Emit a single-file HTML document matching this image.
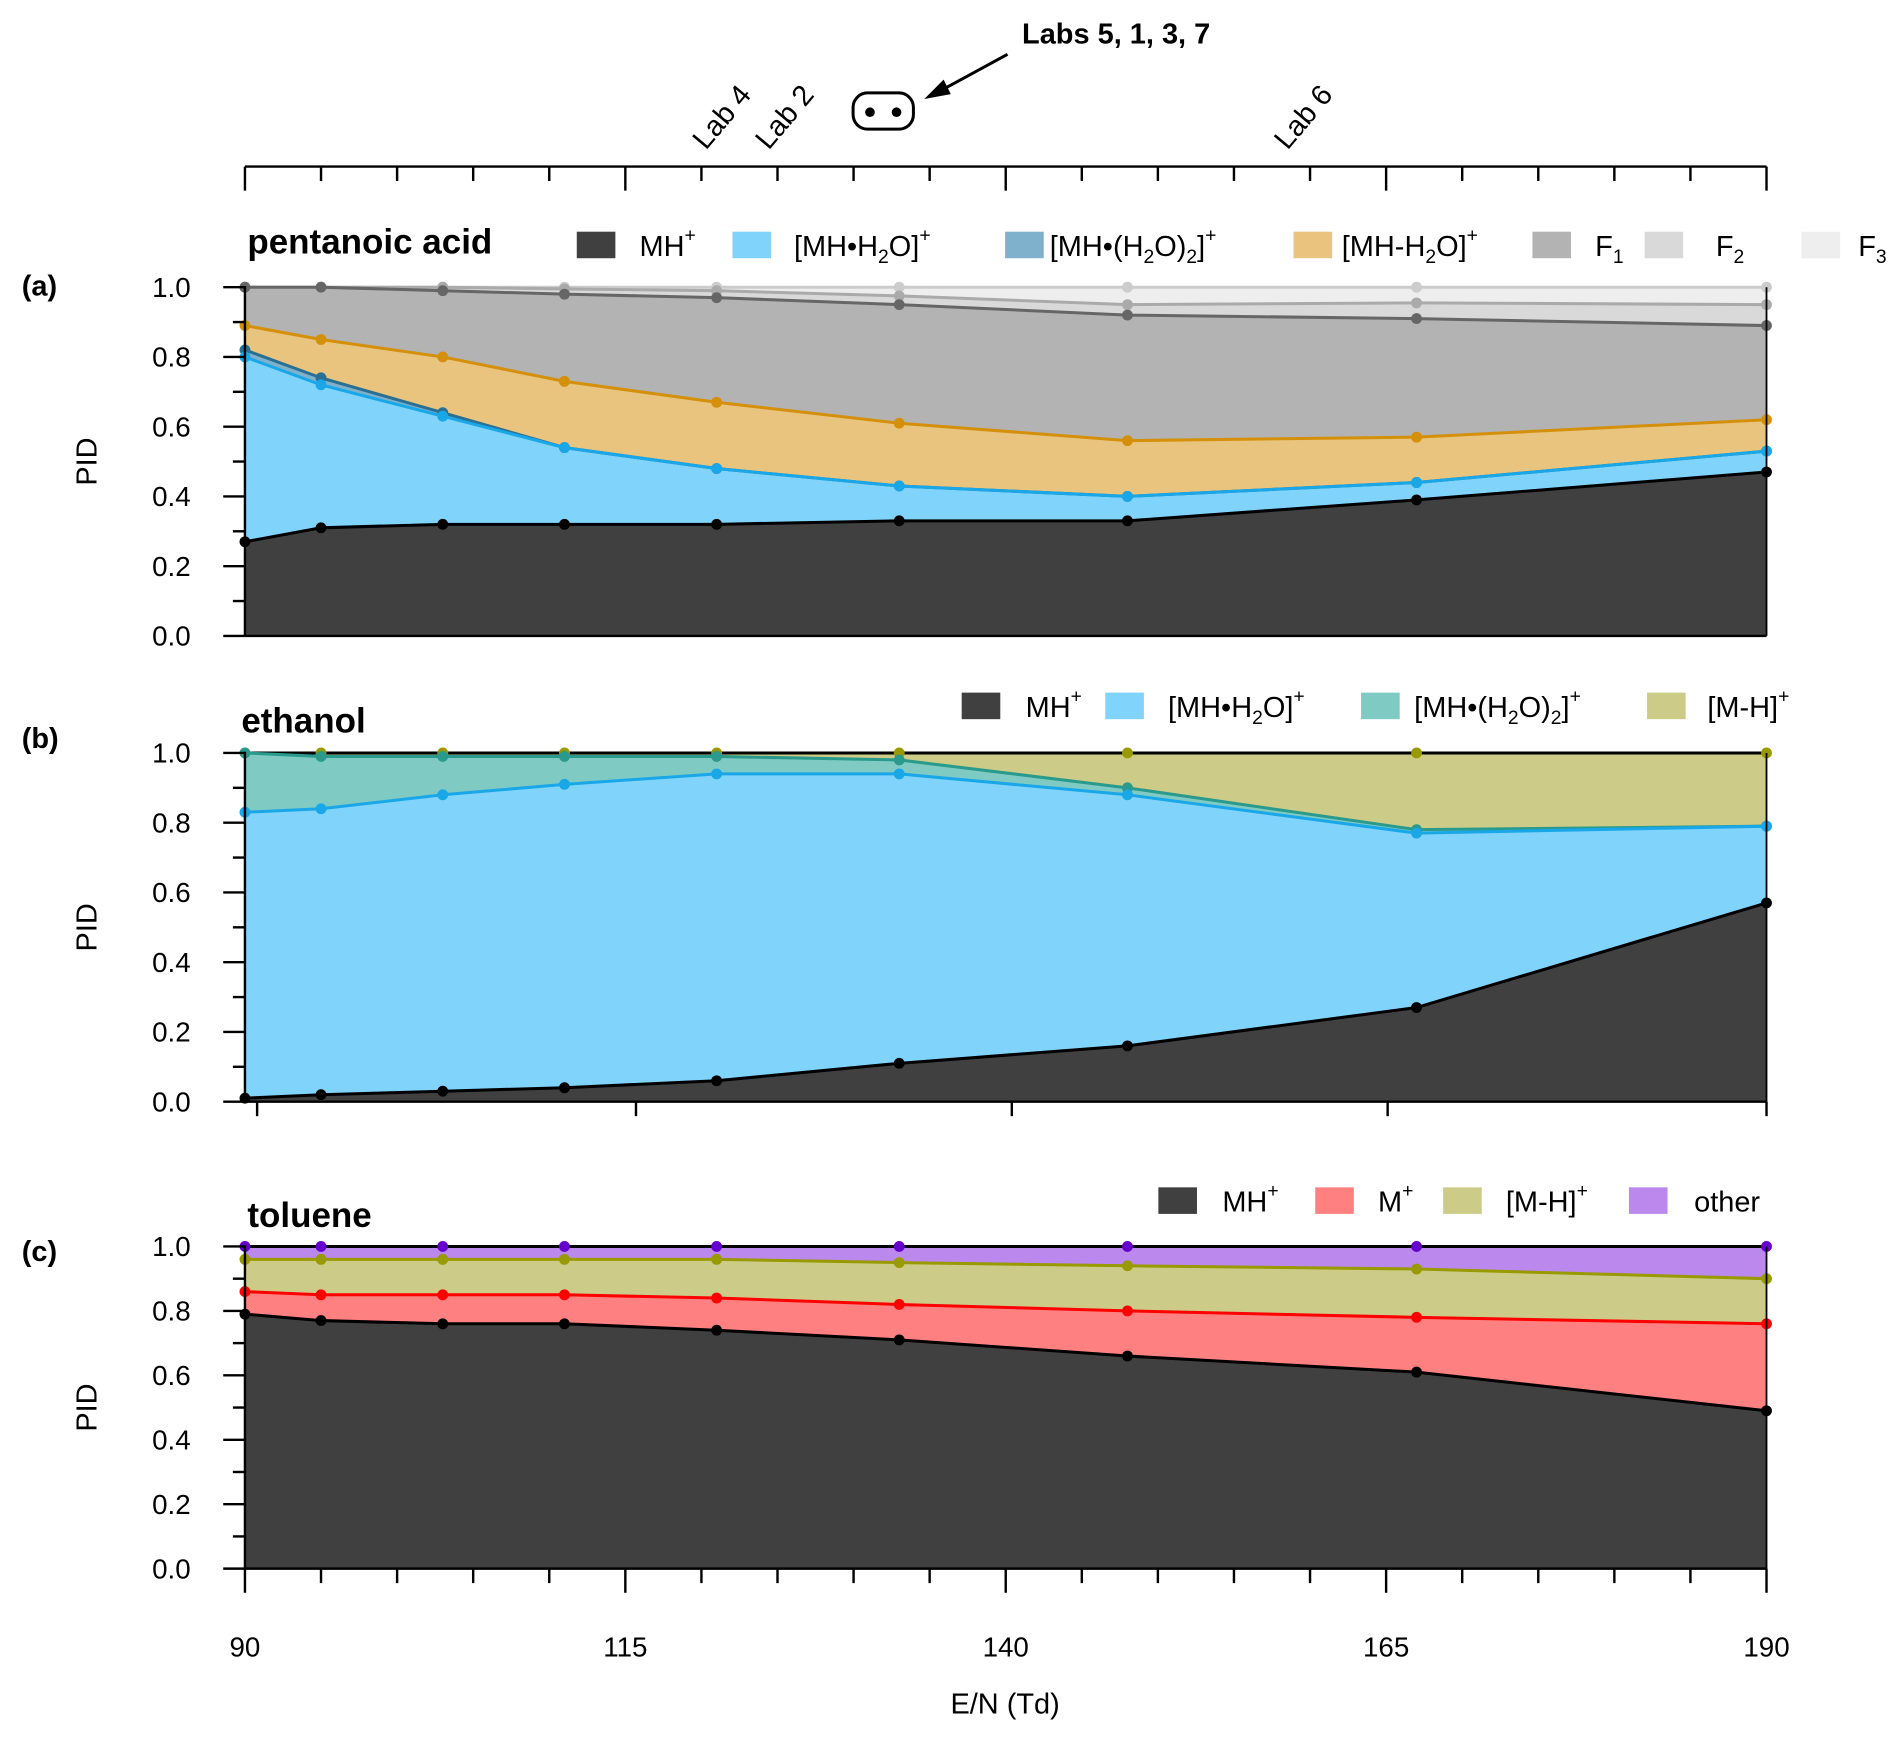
<!DOCTYPE html>
<html><head><meta charset="utf-8"><style>
html,body{margin:0;padding:0;background:#fff;}
svg{display:block;font-family:"Liberation Sans",Arial,sans-serif;}
</style></head><body>
<svg id="chart" width="1892" height="1740" viewBox="0 0 1568 1442" xmlns="http://www.w3.org/2000/svg"></svg>
<script>
const enValues=[90,95,103,111,121,133,148,167,190];
const xTicks=[90,115,140,165,190];
const yTicks=[0,0.2,0.4,0.6,0.8,1.0];
// panel a (cumulative tops)
const aMH=[.27,.31,.32,.32,.32,.33,.33,.39,.47];
const aH2O=[.80,.72,.63,.54,.48,.43,.40,.44,.53];
const aH2O2=[.82,.74,.64,.54,.48,.43,.40,.44,.53];
const aMinusH2O=[.89,.85,.80,.73,.67,.61,.56,.57,.62];
const aF1=[1.0,1.0,.99,.98,.97,.95,.92,.91,.89];
const aF2=[1,1,1,.995,.99,.975,.95,.955,.95];
const aF3=[1,1,1,1,1,1,1,1,1];
// panel b
const bMH=[.01,.02,.03,.04,.06,.11,.16,.27,.57];
const bH2O=[.83,.84,.88,.91,.94,.94,.88,.77,.79];
const bH2O2=[1.0,.99,.99,.99,.99,.98,.90,.78,.79];
const bMH_H=[1,1,1,1,1,1,1,1,1];
// panel c
const cMH=[.79,.77,.76,.76,.74,.71,.66,.61,.49];
const cM=[.86,.85,.85,.85,.84,.82,.80,.78,.76];
const cMH_H=[.96,.96,.96,.96,.96,.95,.94,.93,.90];
const cOther=[1,1,1,1,1,1,1,1,1];

const NS="http://www.w3.org/2000/svg";
const svg=document.getElementById('chart');
function mk(tag,attrs,parent){const e=document.createElementNS(NS,tag);for(const k in attrs)e.setAttribute(k,attrs[k]);(parent||svg).appendChild(e);return e;}
const X0=203,X1=1464;
function xs(v){return X0+(v-90)/(190-90)*(X1-X0);}
const panels=[
 {id:'a',top:238,bot:527,series:[
   {n:'mh',d:aMH,f:'#404040',l:'#000'},
   {n:'mh-h2o',d:aH2O,f:'#80d4fc',l:'#1aa7e8'},
   {n:'mh-h2o2',d:aH2O2,f:'#7fb1cc',l:'#2a6f94'},
   {n:'mh-minus-h2o',d:aMinusH2O,f:'#e8c47f',l:'#d4900a'},
   {n:'f1',d:aF1,f:'#b3b3b3',l:'#666'},
   {n:'f2',d:aF2,f:'#d9d9d9',l:'#aaa'},
   {n:'f3',d:aF3,f:'#eeeeee',l:'#ccc'}]},
 {id:'b',top:624,bot:913,series:[
   {n:'mh',d:bMH,f:'#404040',l:'#000'},
   {n:'mh-h2o',d:bH2O,f:'#80d4fc',l:'#1aa7e8'},
   {n:'mh-h2o2',d:bH2O2,f:'#7fcbc4',l:'#2a9a8c'},
   {n:'m-h',d:bMH_H,f:'#cccc88',l:'#000'}]},
 {id:'c',top:1033,bot:1300,series:[
   {n:'mh',d:cMH,f:'#404040',l:'#000'},
   {n:'m-plus',d:cM,f:'#ff8080',l:'#ff0000'},
   {n:'m-h',d:cMH_H,f:'#cccc88',l:'#999900'},
   {n:'other',d:cOther,f:'#bb88ee',l:'#000'}]}
];
const dotCol={a:['#000','#1aa7e8','#2a6f94','#d4900a','#666','#aaa','#ccc'],b:['#000','#1aa7e8','#2a9a8c','#999900'],c:['#000','#ff0000','#999900','#6600cc']};
panels.forEach(p=>{
  const ys=v=>p.bot-v*(p.bot-p.top);
  const g=mk('g',{});
  
  
  p.series.forEach((s,i)=>{
    const lower=i===0?enValues.map(()=>0):p.series[i-1].d;
    let d='M'+enValues.map((v,j)=>xs(v)+','+ys(s.d[j])).join(' L');
    for(let j=enValues.length-1;j>=0;j--)d+=' L'+xs(enValues[j])+','+ys(lower[j]);
    const a=mk('path',{d:d+'Z',fill:s.f,stroke:'none'},g);
    
    
  });
  for(let i=p.series.length-1;i>=0;i--){
    const s=p.series[i];
    const ln=mk('polyline',{points:enValues.map((v,j)=>xs(v)+','+ys(s.d[j])).join(' '),fill:'none',stroke:s.l,'stroke-width':2.5},g);
    
    
    enValues.forEach((v,j)=>{
      const c=mk('circle',{cx:xs(v),cy:ys(s.d[j]),r:4.5,fill:dotCol[p.id][i]},g);
      
      
    });
  }
  mk('line',{x1:X0,y1:p.top-1,x2:X0,y2:p.bot,stroke:'#000','stroke-width':2},g);
  mk('line',{x1:X1,y1:p.top,x2:X1,y2:p.bot,stroke:'#000','stroke-width':1.5},g);
  mk('line',{x1:X0,y1:p.bot,x2:X1,y2:p.bot,stroke:'#000','stroke-width':2},g);
  for(let k=0;k<=10;k++){
    const v=k/10,y=ys(v),major=k%2===0;
    mk('line',{x1:X0-(major?18:10),y1:y,x2:X0,y2:y,stroke:'#000','stroke-width':2},g);
  }
  yTicks.forEach(v=>{
    const t=mk('text',{x:158,y:ys(v)+8,'text-anchor':'end','font-size':23},g);
    t.textContent=v.toFixed(1);
    
    
  });
  const yl=mk('text',{x:0,y:0,'font-size':24,'text-anchor':'middle',transform:`translate(80,${(p.top+p.bot)/2}) rotate(-90)`},g);
  yl.textContent='PID';
  
  
  const pl=mk('text',{x:18,y:p.id==='a'?245:(p.id==='b'?620:1045),'font-size':24,'font-weight':'bold'},g);
  pl.textContent='('+p.id+')';
  
  
});
[90.8,115.7,140.4,165.1,190].forEach(v=>{mk('line',{x1:xs(v),y1:913,x2:xs(v),y2:925,stroke:'#000','stroke-width':2});});
for(let v=90;v<=190;v+=5){
  const major=(v-90)%25===0;
  mk('line',{x1:xs(v),y1:1300,x2:xs(v),y2:1300+(major?20:12),stroke:'#000','stroke-width':2});
  mk('line',{x1:xs(v),y1:138,x2:xs(v),y2:138+(major?20:12),stroke:'#000','stroke-width':2});
}
mk('line',{x1:X0,y1:138,x2:X1,y2:138,stroke:'#000','stroke-width':2});
xTicks.forEach(v=>{
  const t=mk('text',{x:xs(v),y:1373,'text-anchor':'middle','font-size':23});
  t.textContent=v;
  
  
});
const xt=mk('text',{x:833,y:1420,'text-anchor':'middle','font-size':24});
xt.textContent='E/N (Td)';


[['pentanoic acid',205,210],['ethanol',200,607],['toluene',205,1017]].forEach(a=>{
  const t=mk('text',{x:a[1],y:a[2],'font-size':29,'font-weight':'bold'});
  t.textContent=a[0];
  
  
});
// parts: [text, offset]; offset 0 normal, 1 subscript, -1 superscript
function leg(sx,tx,y,col,parts){
  const r=mk('rect',{x:sx,y:y-18,width:32,height:22,fill:col});
  
  
  const t=mk('text',{x:tx,y:y+2,'font-size':24});
  
  
  let prev=0;
  parts.forEach(pt=>{
    const off=pt[1]===1?6:(pt[1]===-1?-12:0);
    const ts=mk('tspan',{dy:off-prev,'font-size':pt[1]===0?24:16},t);
    ts.textContent=pt[0];
    prev=off;
  });
}
leg(478,530,210,'#404040',[['MH',0],['+',-1]]);
leg(607,658,210,'#80d4fc',[['[MH•H',0],['2',1],['O]',0],['+',-1]]);
leg(833,870,210,'#7fb1cc',[['[MH•(H',0],['2',1],['O)',0],['2',1],[']',0],['+',-1]]);
leg(1072,1112,210,'#e8c47f',[['[MH-H',0],['2',1],['O]',0],['+',-1]]);
leg(1270,1322,210,'#b3b3b3',[['F',0],['1',1]]);
leg(1363,1422,210,'#d9d9d9',[['F',0],['2',1]]);
leg(1493,1540,210,'#eeeeee',[['F',0],['3',1]]);
leg(797,850,592,'#404040',[['MH',0],['+',-1]]);
leg(916,968,592,'#80d4fc',[['[MH•H',0],['2',1],['O]',0],['+',-1]]);
leg(1128,1172,592,'#7fcbc4',[['[MH•(H',0],['2',1],['O)',0],['2',1],[']',0],['+',-1]]);
leg(1365,1415,592,'#cccc88',[['[M-H]',0],['+',-1]]);
leg(960,1013,1002,'#404040',[['MH',0],['+',-1]]);
leg(1090,1142,1002,'#ff8080',[['M',0],['+',-1]]);
leg(1196,1248,1002,'#cccc88',[['[M-H]',0],['+',-1]]);
leg(1350,1404,1002,'#bb88ee',[['other',0]]);
[['Lab 4',585,125],['Lab 2',637,125],['Lab 6',1067,125]].forEach(a=>{
  const t=mk('text',{x:0,y:0,'font-size':24,transform:`translate(${a[1]},${a[2]}) rotate(-50)`});
  t.textContent=a[0];
  
  
});
const mark=mk('rect',{x:707,y:77,width:50,height:30,rx:12,fill:'#fff',stroke:'#000','stroke-width':2.5});


mk('circle',{cx:721,cy:93,r:4,fill:'#000'});
mk('circle',{cx:743,cy:93,r:4,fill:'#000'});
mk('line',{x1:835,y1:45,x2:778,y2:76,stroke:'#000','stroke-width':2.5});
mk('polygon',{points:'766,82 782,66 788,78',fill:'#000'});
const lt=mk('text',{x:847,y:36,'font-size':24,'font-weight':'bold'});
lt.textContent='Labs 5, 1, 3, 7';


</script>
</body></html>
